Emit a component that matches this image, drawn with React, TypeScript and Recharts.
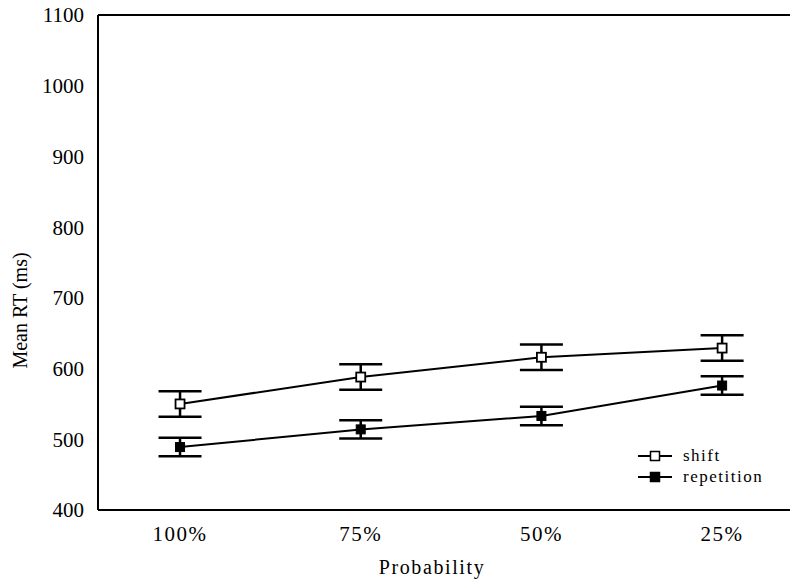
import React from "react";
import { ComposedChart, Line, XAxis, YAxis, ErrorBar, ReferenceLine, Legend } from "recharts";

const categories = ["100%", "75%", "50%", "25%"];
const shiftMeans = [550, 588, 616, 629];
const shiftErr = [18, 18, 18, 18];
const repetitionMeans = [489, 514, 533, 576];
const repetitionErr = [13, 13, 13, 13];
const yTicks = [400, 500, 600, 700, 800, 900, 1000, 1100];
const seriesOrder = ["shift", "repetition"];

const data = categories.map((c, i) => ({
    x: i,
    label: c,
    shift: shiftMeans[i],
    shiftErr: shiftErr[i],
    repetition: repetitionMeans[i],
    repetitionErr: repetitionErr[i],
}));

const FONT = "'Liberation Serif', serif";

const OpenSquare = (props: any) => {
    const { cx, cy } = props;
    if (cx == null || cy == null) return null;
    return <rect key={`s-${cx}`} x={cx - 4.5} y={cy - 4.5} width={9} height={9} fill="#fff" stroke="#000" strokeWidth={1.8} />;
};

const FilledSquare = (props: any) => {
    const { cx, cy } = props;
    if (cx == null || cy == null) return null;
    return <rect key={`r-${cx}`} x={cx - 4.5} y={cy - 4.5} width={9} height={9} fill="#000" stroke="#000" strokeWidth={1} />;
};

const LegendBox = (props: any) => {
    const items = [...(props.payload || [])].sort(
        (a: any, b: any) => seriesOrder.indexOf(a.dataKey) - seriesOrder.indexOf(b.dataKey)
    );
    return (
        <svg width={150} height={50}>
            {items.map((it: any, i: number) => {
                const y = 9 + i * 21;
                const filled = it.dataKey === "repetition";
                return (
                    <g key={it.value}>
                        <line x1={2} x2={36} y1={y} y2={y} stroke="#000" strokeWidth={1.8} />
                        <rect x={14.5} y={y - 4.5} width={9} height={9}
                            fill={filled ? "#000" : "#fff"} stroke="#000" strokeWidth={1.5} />
                        <text x={47} y={y + 5} style={{ fontFamily: FONT }} fontSize={17} letterSpacing={1.5} fill="#000">{it.value}</text>
                    </g>
                );
            })}
        </svg>
    );
};

export default function App() {
    return (
        <div style={{ marginLeft: -8, marginTop: -8, width: 798, height: 586, background: "#fff", fontFamily: FONT }}>
            <ComposedChart width={798} height={586} data={data} margin={{ top: 15, right: 0, bottom: 46, left: 0 }}
                style={{ fontFamily: FONT }}>
                <XAxis
                    type="number"
                    dataKey="x"
                    domain={[-0.454, 3.42]}
                    allowDataOverflow
                    ticks={[0, 1, 2, 3]}
                    tickFormatter={(v) => categories[v] ?? ""}
                    tickLine={false}
                    tickSize={6}
                    tickMargin={10}
                    axisLine={{ stroke: "#000", strokeWidth: 2 }}
                    tick={{ fill: "#000", style: { fontFamily: FONT }, fontSize: 21, letterSpacing: 1.5 }}
                    label={{
                        value: "Probability",
                        content: (p: any) => {
                            const vb = p.viewBox || { x: 98, y: 510, width: 700, height: 30 };
                            const cx = vb.x + vb.width / 2 - 16;
                            return (
                                <text x={cx} y={574} textAnchor="middle" style={{ fontFamily: FONT }} fontSize={20}
                                    letterSpacing={1.6} fill="#000">Probability</text>
                            );
                        },
                    }}
                />
                <YAxis
                    type="number"
                    domain={[400, 1100]}
                    ticks={yTicks}
                    width={98}
                    tickLine={false}
                    tickSize={6}
                    tickMargin={8}
                    axisLine={{ stroke: "#000", strokeWidth: 2 }}
                    tick={{ fill: "#000", style: { fontFamily: FONT }, fontSize: 21 }}
                    label={{
                        value: "Mean RT (ms)",
                        content: (p: any) => {
                            const vb = p.viewBox || { x: 0, y: 15, width: 98, height: 495 };
                            const cx = vb.x + 20;
                            const cy = vb.y + vb.height / 2 + 48;
                            return (
                                <text x={cx} y={cy} transform={`rotate(-90 ${cx} ${cy})`} textAnchor="middle" dominantBaseline="central"
                                    style={{ fontFamily: FONT }} fontSize={20} fill="#000">Mean RT (ms)</text>
                            );
                        },
                    }}
                />
                <ReferenceLine y={1100} stroke="#000" strokeWidth={2} />
                <Legend
                    layout="horizontal"
                    verticalAlign="middle"
                    align="center"
                    wrapperStyle={{ position: "absolute", left: 636, top: 447, width: 150 }}
                    content={<LegendBox />}
                />
                <Line dataKey="shift" name="shift" stroke="#000" strokeWidth={2} dot={<OpenSquare />} isAnimationActive={false} legendType="square">
                    <ErrorBar dataKey="shiftErr" width={21.5} stroke="#000" strokeWidth={2.5} direction="y" />
                </Line>
                <Line dataKey="repetition" name="repetition" stroke="#000" strokeWidth={2} dot={<FilledSquare />} isAnimationActive={false} legendType="square">
                    <ErrorBar dataKey="repetitionErr" width={21.5} stroke="#000" strokeWidth={2.5} direction="y" />
                </Line>
            </ComposedChart>
        </div>
    );
}
